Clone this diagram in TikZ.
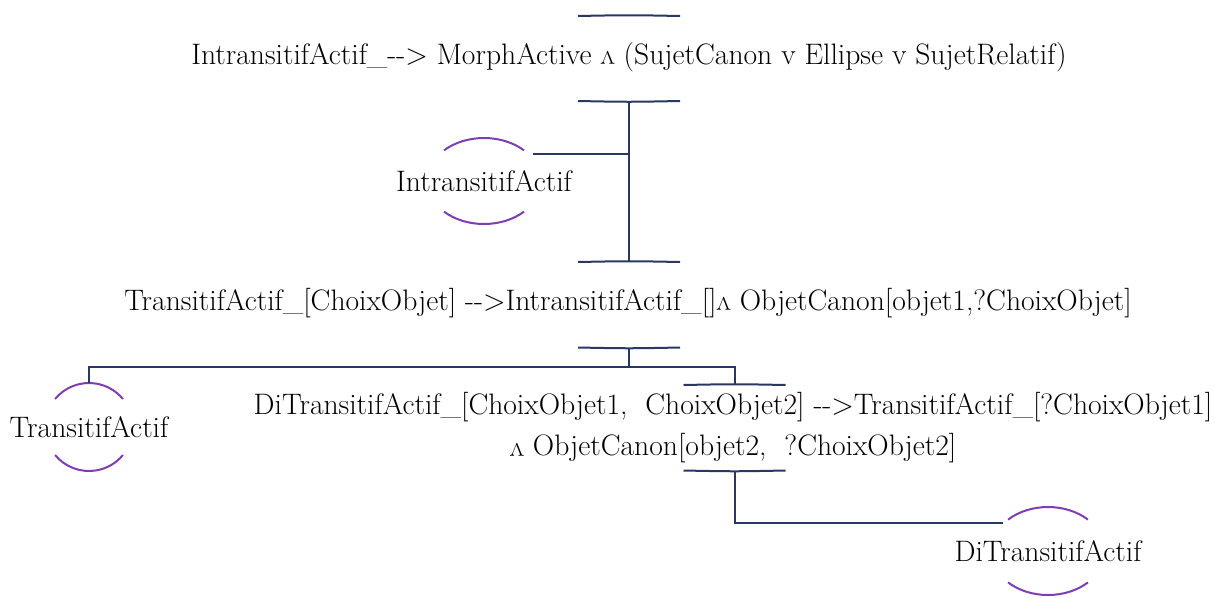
\documentclass[tikz,border=0pt]{standalone}
\usepackage{graphicx}
\usetikzlibrary{calc}
\definecolor{navy}{RGB}{40,56,98}
\definecolor{rimpurple}{RGB}{124,62,178}
\newcommand\andsym{\rotatebox[origin=c]{180}{v}}
\newcommand\arrw{-{}-{}>}
\begin{document}
\begin{tikzpicture}[x=0.75pt,y=-0.75pt,
  txt/.style={inner sep=0pt, align=center, font=\fontsize{22.2}{30.75}\selectfont, text=black},
  conn/.style={draw=navy, line width=1.5pt},
  barline/.style={draw=navy, line width=1.5pt},
  rim/.style={draw=rimpurple, line width=1.5pt}]
\useasboundingbox (0,0) rectangle (1216,597);

% rule texts
\node[txt] (r1) at (629,57) {IntransitifActif\_\arrw{} MorphActive \andsym{} (SujetCanon v Ellipse v SujetRelatif)};
\node[txt] (r3) at (628,303) {TransitifActif\_[ChoixObjet] \arrw{}IntransitifActif\_[]\andsym{} ObjetCanon[objet1,?ChoixObjet]};
\node[txt] (r4) at (733,428) {DiTransitifActif\_[ChoixObjet1,\ \ ChoixObjet2] \arrw{}TransitifActif\_[?ChoixObjet1]\\ \andsym{} ObjetCanon[objet2,\ \ ?ChoixObjet2]};

% concept nodes
\node[txt] (ia) at (484,181) {IntransitifActif};
\node[txt] (ta) at (89,427) {TransitifActif};
\node[txt] (dt) at (1048,551) {DiTransitifActif};

% bar coordinates
\coordinate (r1a) at (629,15.5);
\coordinate (r1b) at (629,101.5);
\coordinate (r3a) at (629,261.5);
\coordinate (r3b) at (629,348);
\coordinate (r4a) at (734.5,384.5);
\coordinate (r4b) at (734.5,471);

% bars above (bulge up) and below (bulge down)
\foreach \c in {r1a,r3a,r4a}{
  \draw[barline] ($(\c)+(-51,0.5)$) .. controls ($(\c)+(0,-0.5)$) .. ($(\c)+(51,0.5)$);
}
\foreach \c in {r1b,r3b,r4b}{
  \draw[barline] ($(\c)+(-51,-0.5)$) .. controls ($(\c)+(0,0.5)$) .. ($(\c)+(51,-0.5)$);
}

% rims of concept nodes
\draw[rim] (ia.center) ++(-134.5:57 and 43) arc[start angle=-134.5, end angle=-45.5, x radius=57, y radius=43];
\draw[rim] (ia.center) ++(134.5:57 and 43) arc[start angle=134.5, end angle=45.5, x radius=57, y radius=43];
\draw[rim] (ta.center) ++(-140.5:44) arc[start angle=-140.5, end angle=-39.5, radius=44];
\draw[rim] (ta.center) ++(140.5:44) arc[start angle=140.5, end angle=39.5, radius=44];
\draw[rim] (dt.center) ++(-134.5:57 and 44) arc[start angle=-134.5, end angle=-45.5, x radius=57, y radius=44];
\draw[rim] (dt.center) ++(134.5:57 and 44) arc[start angle=134.5, end angle=45.5, x radius=57, y radius=44];

% connector anchor points
\coordinate (j1) at (629,154);
\coordinate (iaend) at (533,154);
\coordinate (j2) at (629,366.5);
\coordinate (tatop) at ($(ta.center)+(0,-44)$);
\coordinate (dtend) at (1003,523);

% connectors
\draw[conn] (r1b) -- (r3a);
\draw[conn] (j1) -- (iaend);
\draw[conn] (r3b) -- (j2);
\draw[conn] (tatop) |- (j2) -| (r4a);
\draw[conn] (r4b) |- (dtend);
\end{tikzpicture}
\end{document}
